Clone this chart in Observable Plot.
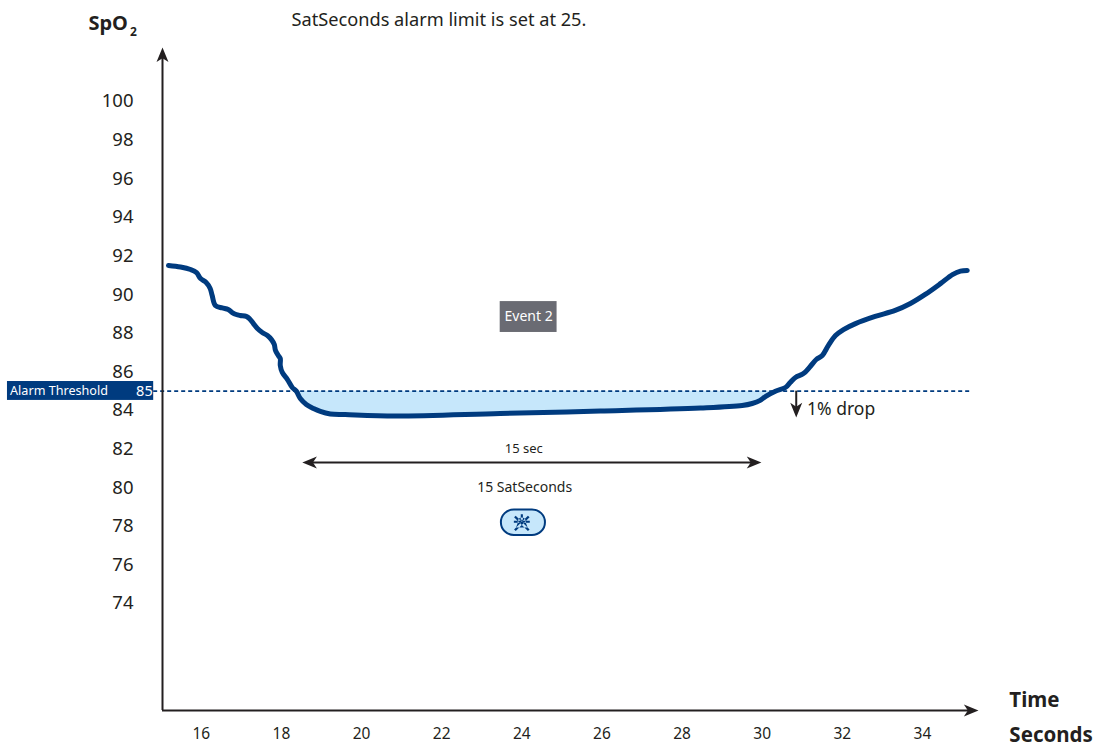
<!DOCTYPE html>
<html><head><meta charset="utf-8">
<script src="https://cdn.jsdelivr.net/npm/d3@7"></script>
<script src="https://cdn.jsdelivr.net/npm/@observablehq/plot@0.6"></script>
<style>html,body{margin:0;padding:0;background:#fff}svg{display:block}</style>
</head><body><div id="chart"></div>
<script>
const seconds = [15.18,15.48,15.73,15.88,15.98,16.12,16.22,16.27,16.35,16.52,16.67,16.77,16.87,16.97,17.12,17.20,17.30,17.40,17.52,17.65,17.75,17.82,17.85,17.92,17.97,17.97,18.02,18.15,18.27,18.37,18.47,18.62,18.80,18.97,19.22,19.59,20.84,23.46,25.96,28.46,29.50,29.75,29.95,30.08,30.33,30.58,30.70,30.83,31.03,31.20,31.35,31.50,31.65,31.83,32.03,32.33,32.82,33.32,33.70,34.07,34.45,34.75,34.95,35.12];
const spo2 = [91.51,91.43,91.30,91.14,90.83,90.63,90.32,89.95,89.44,89.31,89.23,89.07,88.97,88.92,88.87,88.76,88.50,88.24,88.04,87.88,87.67,87.42,87.11,86.85,86.69,86.33,85.97,85.60,85.19,85.00,84.62,84.31,84.10,83.95,83.82,83.79,83.71,83.84,83.97,84.13,84.26,84.36,84.52,84.72,85.00,85.19,85.45,85.71,85.91,86.28,86.64,86.85,87.36,87.88,88.19,88.50,88.87,89.18,89.54,90.01,90.57,91.04,91.22,91.25];
const xTicks = [16,18,20,22,24,26,28,30,32,34];
const yTicks = [74,76,78,80,82,84,86,88,90,92,94,96,98,100];
const threshold = 85;
const curve = seconds.map((s,i)=>({s,v:spo2[i]}));
const below = curve.filter(d=>d.s>=18.37 && d.s<=30.33);

const navy="#003b7f", ink="#231f20", pale="#c6e7fb", font="'Noto Sans',sans-serif";
const xMin=15.03,xMax=35.4,yMin=68.46,yMax=102.8;

const stealth={draw(c,size){const k=Math.sqrt(size)/10;
  c.moveTo(0,0);c.lineTo(4.5*k,11*k);c.lineTo(0,8*k);c.lineTo(-4.5*k,11*k);c.closePath();}};
const head=(x,y,rotate,r=7.5)=>Plot.dot([{x,y}],{x:"x",y:"y",symbol:stealth,r,rotate,fill:ink,stroke:"none"});
const bar=(c,x0,y0,x1,y1,w)=>{const dx=x1-x0,dy=y1-y0,l=Math.hypot(dx,dy),nx=-dy/l*w,ny=dx/l*w;
  c.moveTo(x0+nx,y0+ny);c.lineTo(x1+nx,y1+ny);c.lineTo(x1-nx,y1-ny);c.lineTo(x0-nx,y0-ny);c.closePath();};
const bell={draw(c,size){const k=Math.sqrt(size)/10;
  c.moveTo(0,-5*k);c.bezierCurveTo(3.4*k,-5*k,3.8*k,-2*k,4*k,0.5*k);c.lineTo(5.4*k,4.5*k);c.lineTo(-5.4*k,4.5*k);c.lineTo(-4*k,0.5*k);c.bezierCurveTo(-3.8*k,-2*k,-3.4*k,-5*k,0,-5*k);c.closePath();
  bar(c,-6.5*k,-6*k,6.5*k,7*k,1.1*k);bar(c,6.5*k,-6*k,-6.5*k,7*k,1.1*k);
  bar(c,-7.5*k,-1*k,7.5*k,-1*k,0.9*k);bar(c,0,-8*k,0,-3*k,1*k);}};
const label=(x,y,text,o={})=>Plot.text([{x,y,text}],{x:"x",y:"y",text:"text",fill:ink,fontSize:14,...o});

const plot=Plot.plot({
  width:1105,height:748,
  marginLeft:162,marginRight:127,marginTop:47,marginBottom:38,
  style:{fontFamily:font,background:"#fff",overflow:"visible"},
  x:{domain:[xMin,xMax]},
  y:{domain:[yMin,yMax]},
  marks:[
    Plot.axisX({ticks:xTicks,tickSize:0,tickPadding:17,fontSize:15.5,label:null,fill:ink}),
    Plot.axisY({ticks:yTicks,tickSize:0,tickPadding:29,fontSize:18.5,label:null,fill:ink}),
    Plot.areaY(below,{x:"s",y1:threshold,y2:"v",fill:pale,curve:"linear"}),
    Plot.rect([{}],{x1:()=>11.16,x2:()=>14.81,y1:()=>85.5,y2:()=>84.52,fill:navy}),
    Plot.text(["Alarm Threshold"],{x:()=>11.2,y:()=>85,text:d=>d,textAnchor:"start",dx:1,fill:"#fff",fontSize:12.6}),
    Plot.text(["85"],{x:()=>14.81,y:()=>85,text:d=>d,textAnchor:"end",dx:-1,fill:"#fff",fontSize:14.5}),
    Plot.ruleY([threshold],{x1:14.81,x2:35.2,stroke:navy,strokeWidth:1.6,strokeDasharray:"4 3"}),
    Plot.ruleX([xMin],{y1:yMin,y2:102.4,stroke:ink,strokeWidth:2}),
    Plot.ruleY([yMin],{x1:xMin,x2:35.2,stroke:ink,strokeWidth:2}),
    head(xMin,yMax,0),
    head(xMax,yMin,90),
    Plot.line(curve,{x:"s",y:"v",stroke:navy,strokeWidth:5,curve:"catmull-rom",strokeLinejoin:"round"}),
    Plot.ruleY([81.31],{x1:18.65,x2:29.85,stroke:ink,strokeWidth:2}),
    head(18.52,81.31,-90),
    head(29.98,81.31,90),
    Plot.ruleX([30.85],{y1:85,y2:84.0,stroke:ink,strokeWidth:2}),
    head(30.85,83.64,180),
    label(31.12,84.08,"1% drop",{textAnchor:"start",fontSize:17.5}),
    label(24.05,82.0,"15 sec",{fontSize:13}),
    label(24.07,80.02,"15 SatSeconds",{fontSize:14}),
    Plot.rect([{}],{x1:()=>23.46,x2:()=>24.88,y1:()=>89.64,y2:()=>88.04,fill:"#6a6b73"}),
    label(24.17,88.85,"Event 2",{fill:"#fff",fontSize:14}),
    Plot.rect([{}],{x1:()=>23.49,x2:()=>24.59,y1:()=>78.85,y2:()=>77.52,fill:pale,stroke:navy,strokeWidth:2,rx:13}),
    Plot.dot([{x:24.0,y:78.18}],{x:"x",y:"y",symbol:bell,r:6,fill:navy,stroke:"none"}),
    label(18.25,104.2,"SatSeconds alarm limit is set at 25.",{textAnchor:"start",fontSize:18.2}),
    label(13.18,104.05,"SpO",{textAnchor:"start",fontSize:20,fontWeight:"bold"}),
    label(14.22,103.6,"2",{textAnchor:"start",fontSize:12,fontWeight:"bold"}),
    label(36.17,68.98,"Time",{textAnchor:"start",fontSize:20.5,fontWeight:"bold"}),
    label(36.17,67.17,"Seconds",{textAnchor:"start",fontSize:20.5,fontWeight:"bold"})
  ]
});
document.getElementById("chart").append(plot);
</script></body></html>
